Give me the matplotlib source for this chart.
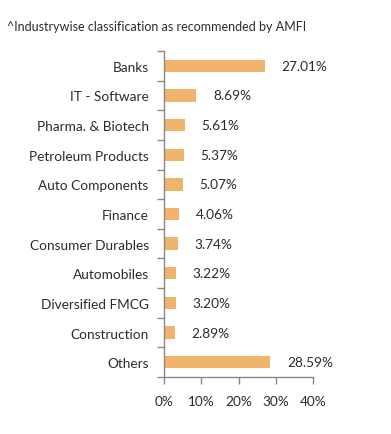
import numpy as np
import matplotlib.pyplot as plt

plt.rcParams['font.family'] = ['Lato', 'DejaVu Sans']

industries = ["Banks", "IT - Software", "Pharma. & Biotech", "Petroleum Products",
              "Auto Components", "Finance", "Consumer Durables", "Automobiles",
              "Diversified FMCG", "Construction", "Others"]
weights = [27.01, 8.69, 5.61, 5.37, 5.07, 4.06, 3.74, 3.22, 3.20, 2.89, 28.59]
xticks = [0, 10, 20, 30, 40]

fig = plt.figure(figsize=(3.91, 4.35), dpi=100)
ax = fig.add_axes([164/391, 1 - 378/435, 149/391, 326/435])

y = np.arange(len(industries))
ax.barh(y, weights, height=0.42, color='#F0B36C')
for yi, w in zip(y, weights):
    ax.annotate(f"{w:.2f}%", (w, yi), xytext=(12, 0), textcoords='offset points',
                va='center', ha='left', fontsize=9.8, color='#2b2b2b')

ax.set_xlim(0, 40)
ax.set_ylim(len(industries) - 0.5, -0.5)
ax.set_yticks(y)
ax.set_yticklabels(industries, fontsize=9.8, color='#2b2b2b')
ax.set_yticks(np.arange(len(industries) + 1) - 0.5, minor=True)
ax.tick_params(axis='y', which='major', length=0, pad=11)
ax.tick_params(axis='y', which='minor', length=5, color='#888888', width=1)
ax.set_xticks(xticks)
ax.set_xticklabels([f"{t}%" for t in xticks], fontsize=9.8, color='#2b2b2b')
ax.tick_params(axis='x', length=5, color='#888888', width=1, pad=8)

for s in ['top', 'right']:
    ax.spines[s].set_visible(False)
for s in ['left', 'bottom']:
    ax.spines[s].set_color('#888888')
    ax.spines[s].set_linewidth(1)

fig.text(7/391, 1 - 27/435, "^Industrywise classification as recommended by AMFI",
         fontsize=9, color='#2b2b2b', va='center', ha='left')

fig.savefig('out.png', dpi=100)
